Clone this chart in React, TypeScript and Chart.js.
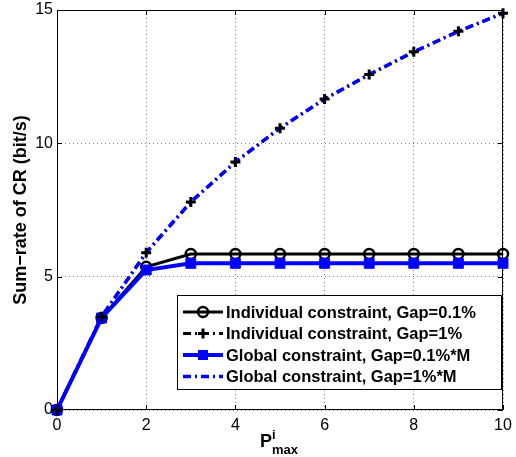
import React, { useEffect, useRef } from 'react';
import { Chart, registerables } from 'chart.js';

Chart.register(...registerables);

const xValues = [0, 1, 2, 3, 4, 5, 6, 7, 8, 9, 10];
const indivGap01 = [0, 3.45, 5.37, 5.85, 5.85, 5.85, 5.85, 5.85, 5.85, 5.85, 5.85];
const indivGap1 = [0, 3.5, 5.9, 7.8, 9.3, 10.57, 11.66, 12.58, 13.43, 14.2, 14.88];
const globalGap01 = [0, 3.45, 5.25, 5.5, 5.5, 5.5, 5.5, 5.5, 5.5, 5.5, 5.5];
const globalGap1 = [0, 3.5, 5.9, 7.8, 9.3, 10.57, 11.66, 12.58, 13.43, 14.2, 14.88];
const legendLabels = [
  'Individual constraint, Gap=0.1%',
  'Individual constraint, Gap=1%',
  'Global constraint, Gap=0.1%*M',
  'Global constraint, Gap=1%*M',
];
const yTitle = 'Sum\u2212rate of CR (bit/s)';
const xTitleMain = 'P';
const xTitleSup = 'i';
const xTitleSub = 'max';

const FONT = '"Liberation Sans", Arial, sans-serif';
const DASHDOT = [8, 4, 2, 4];
const BLUE = '#0000ff';

const pts = (ys: number[]) => xValues.map((x, i) => ({ x, y: ys[i] }));

const decorPlugin = {
  id: 'decor',
  beforeDatasetsDraw(chart: any) {
    const { ctx, chartArea: a, scales } = chart;
    ctx.save();
    ctx.strokeStyle = '#000';
    ctx.lineWidth = 1;
    ctx.setLineDash([]);
    ctx.strokeRect(a.left + 0.5, a.top + 0.5, a.right - a.left - 1, a.bottom - a.top - 1);
    const tl = 5;
    ctx.beginPath();
    scales.x.ticks.forEach((t: any) => {
      const px = Math.round(scales.x.getPixelForValue(t.value)) + 0.5;
      ctx.moveTo(px, a.bottom);
      ctx.lineTo(px, a.bottom - tl);
      ctx.moveTo(px, a.top);
      ctx.lineTo(px, a.top + tl);
    });
    scales.y.ticks.forEach((t: any) => {
      const py = Math.round(scales.y.getPixelForValue(t.value)) + 0.5;
      ctx.moveTo(a.left, py);
      ctx.lineTo(a.left + tl, py);
      ctx.moveTo(a.right, py);
      ctx.lineTo(a.right - tl, py);
    });
    ctx.stroke();
    ctx.restore();
  },
  afterDraw(chart: any) {
    const { ctx } = chart;
    ctx.save();
    ctx.fillStyle = '#000';
    ctx.font = `bold 18px ${FONT}`;
    ctx.translate(21, 210);
    ctx.rotate(-Math.PI / 2);
    ctx.textAlign = 'center';
    ctx.textBaseline = 'middle';
    ctx.fillText(yTitle, 0, 0);
    ctx.restore();

    ctx.save();
    ctx.fillStyle = '#000';
    ctx.textAlign = 'left';
    ctx.textBaseline = 'alphabetic';
    ctx.font = `bold 18px ${FONT}`;
    ctx.fillText(xTitleMain, 260, 447);
    ctx.font = `bold 13px ${FONT}`;
    ctx.fillText(xTitleSup, 272, 439);
    ctx.fillText(xTitleSub, 272, 454);
    ctx.restore();

    ctx.save();
    const bx = 177, by = 295, bw = 324, bh = 94;
    ctx.fillStyle = '#fff';
    ctx.fillRect(bx, by, bw, bh);
    ctx.strokeStyle = '#000';
    ctx.lineWidth = 1;
    ctx.strokeRect(bx + 0.5, by + 0.5, bw, bh);
    const rows = [312, 333.5, 355, 376.5];
    const styles = [
      { color: '#000', width: 3, dash: [], marker: 'circle' },
      { color: '#000', width: 3, dash: DASHDOT, marker: 'plus' },
      { color: BLUE, width: 4, dash: [], marker: 'square' },
      { color: BLUE, width: 3.5, dash: DASHDOT, marker: 'none' },
    ];
    rows.forEach((ry, i) => {
      const s = styles[i];
      ctx.strokeStyle = s.color;
      ctx.lineWidth = s.width;
      ctx.setLineDash(s.dash);
      ctx.beginPath();
      ctx.moveTo(183, ry);
      ctx.lineTo(223, ry);
      ctx.stroke();
      ctx.setLineDash([]);
      const mx = 203;
      if (s.marker === 'circle') {
        ctx.lineWidth = 2.5;
        ctx.beginPath();
        ctx.arc(mx, ry, 5, 0, Math.PI * 2);
        ctx.stroke();
      } else if (s.marker === 'plus') {
        ctx.lineWidth = 3;
        ctx.beginPath();
        ctx.moveTo(mx - 5, ry);
        ctx.lineTo(mx + 5, ry);
        ctx.moveTo(mx, ry - 5);
        ctx.lineTo(mx, ry + 5);
        ctx.stroke();
      } else if (s.marker === 'square') {
        ctx.fillStyle = BLUE;
        ctx.fillRect(mx - 5, ry - 5, 10, 10);
      }
      ctx.fillStyle = '#000';
      ctx.font = `bold 16.5px ${FONT}`;
      ctx.textAlign = 'left';
      ctx.textBaseline = 'middle';
      ctx.fillText(legendLabels[i], 226, ry + 1);
    });
    ctx.restore();
  },
};

export default function App() {
  const ref = useRef<HTMLCanvasElement | null>(null);
  useEffect(() => {
    if (!ref.current) return;
    const chart = new Chart(ref.current, {
      type: 'line',
      data: {
        datasets: [
          {
            label: legendLabels[0],
            data: pts(indivGap01),
            borderColor: '#000',
            borderWidth: 3,
            pointStyle: 'circle',
            pointRadius: 5,
            pointBorderWidth: 2.5,
            pointBorderColor: '#000',
            pointBackgroundColor: 'rgba(0,0,0,0)',
            order: 5,
            clip: false,
          },
          {
            label: legendLabels[1],
            data: pts(indivGap1),
            borderColor: '#000',
            borderWidth: 3,
            borderDash: DASHDOT,
            pointRadius: 0,
            order: 4,
            clip: false,
          },
          {
            label: legendLabels[2],
            data: pts(globalGap01),
            borderColor: BLUE,
            borderWidth: 4,
            pointStyle: 'rect',
            pointRadius: 7,
            pointBorderWidth: 1,
            pointBorderColor: BLUE,
            pointBackgroundColor: BLUE,
            order: 3,
            clip: false,
          },
          {
            label: legendLabels[3],
            data: pts(globalGap1),
            borderColor: BLUE,
            borderWidth: 3.5,
            borderDash: DASHDOT,
            pointRadius: 0,
            order: 2,
            clip: false,
          },
          {
            label: legendLabels[1] + ' markers',
            data: pts(indivGap1),
            showLine: false,
            pointStyle: 'cross',
            pointRadius: 5,
            pointBorderWidth: 3,
            pointBorderColor: '#000',
            order: 1,
            clip: false,
          },
        ],
      },
      options: {
        animation: false,
        responsive: true,
        maintainAspectRatio: false,
        layout: { padding: { top: 10, right: 13, left: 0, bottom: 0 } },
        plugins: { legend: { display: false }, tooltip: { enabled: false } },
        elements: { line: { tension: 0 } },
        scales: {
          x: {
            type: 'linear',
            min: 0,
            max: 10,
            ticks: { stepSize: 2, color: '#000', font: { family: FONT, size: 16 }, padding: 6, maxRotation: 0 },
            grid: { color: 'rgba(0,0,0,0.5)', lineWidth: 1, drawTicks: false },
            border: { display: false, dash: [1, 3] },
            afterFit: (s: any) => { s.height = 47; s.paddingLeft = 0; s.paddingRight = 0; },
          },
          y: {
            type: 'linear',
            min: 0,
            max: 15,
            ticks: { stepSize: 5, color: '#000', font: { family: FONT, size: 16 }, padding: 4 },
            grid: { color: 'rgba(0,0,0,0.5)', lineWidth: 1, drawTicks: false },
            border: { display: false, dash: [1, 3] },
            afterFit: (s: any) => { s.width = 57; s.paddingTop = 0; s.paddingBottom = 0; },
          },
        },
      },
      plugins: [decorPlugin],
    });
    return () => chart.destroy();
  }, []);
  return (
    <div style={{ position: 'fixed', left: 0, top: 0, width: 516, height: 457, background: '#fff' }}>
      <canvas ref={ref} />
    </div>
  );
}
